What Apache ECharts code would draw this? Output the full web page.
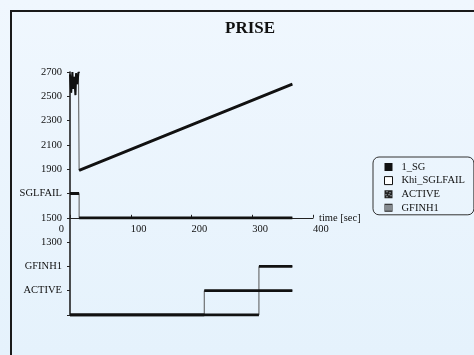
<!DOCTYPE html>
<html>
<head>
<meta charset="utf-8">
<style>
  html, body { margin: 0; padding: 0; background: #ecf5fd; }
  #chart { width: 474px; height: 355px; }
</style>
<script src="https://cdn.jsdelivr.net/npm/echarts@6/dist/echarts.min.js"></script>
</head>
<body>
<div id="chart"></div>
<script>
// Signal 1_SG: noisy start, sudden drop, then steady ramp
const sgNoiseTime  = [0, 2, 4, 5, 7, 9, 10, 12, 14, 15];
const sgNoiseValue = [2680, 2530, 2700, 2560, 2660, 2510, 2690, 2600, 2700, 2690];
const sgRampTime   = [15, 200, 366];
const sgRampValue  = [1890, 2265, 2600];

// Discrete states: change times and the level held after each change
const khiTime     = [0, 15, 366];
const khiLevel    = [1700, 1500];
const activeTime  = [0, 221, 366];
const activeLevel = [700, 900];
const gfinhTime   = [0, 311, 366];
const gfinhLevel  = [700, 1100];

// Axis tick labels
const xTicks = [0, 100, 200, 300, 400];
const stateTickValues = [700, 900, 1100, 1700];
const stateTickNames  = ['', 'ACTIVE', 'GFINH1', 'SGLFAIL'];
const seriesNames = ['1_SG', 'Khi_SGLFAIL', 'ACTIVE', 'GFINH1'];

const FONT = "'Liberation Serif', 'Times New Roman', serif";
const INK = '#111';

// Thick horizontal runs of a step signal (separated by gaps)
function stepRuns(times, levels) {
  const out = [];
  for (let i = 0; i < levels.length; i++) {
    out.push([times[i], levels[i]], [times[i + 1], levels[i]]);
    if (i < levels.length - 1) out.push(null);
  }
  return out;
}
// Full step path including the thin vertical jumps
function stepPath(times, levels) {
  const out = [];
  for (let i = 0; i < levels.length; i++) {
    out.push([times[i], levels[i]], [times[i + 1], levels[i]]);
  }
  return out;
}
const zip = (a, b) => a.map((v, i) => [v, b[i]]);

const sgNoise = zip(sgNoiseTime, sgNoiseValue);
const sgRamp  = zip(sgRampTime, sgRampValue);
const sgThin  = sgNoise.concat(sgRamp);

function thickSeries(name, data, width) {
  return {
    name, type: 'line', data, showSymbol: false, connectNulls: false,
    lineStyle: { color: INK, width: width || 2.8 }, itemStyle: { color: INK },
    z: 4, animation: false, silent: true
  };
}
function thinSeries(data) {
  return {
    type: 'line', data, showSymbol: false,
    lineStyle: { color: '#555', width: 1 }, z: 3, animation: false, silent: true
  };
}

const chart = echarts.init(document.getElementById('chart'), null, { renderer: 'canvas' });

const gridTop = 72, gridHeight = 243;
const yMin = 700, yMax = 2700, xAxisLevel = 1500;
const xAxisOffset = -gridHeight * (xAxisLevel - yMin) / (yMax - yMin);

chart.setOption({
  animation: false,
  backgroundColor: {
    type: 'linear', x: 0, y: 0, x2: 0, y2: 1,
    colorStops: [{ offset: 0, color: '#f0f7fe' }, { offset: 1, color: '#e5f2fc' }]
  },
  title: {
    text: 'PRISE', left: 225, top: 20, padding: 0,
    textStyle: { fontFamily: FONT, fontWeight: 'bold', fontSize: 17, color: INK }
  },
  graphic: [{
    type: 'rect', z: 100,
    shape: { x: 11, y: 11, width: 600, height: 600 },
    style: { fill: 'none', stroke: '#1a1a1a', lineWidth: 2 }
  }],
  legend: {
    orient: 'vertical', left: 373, top: 157,
    padding: [4, 9, 1, 11], itemGap: 1.6,
    itemWidth: 8, itemHeight: 8,
    borderColor: '#333', borderWidth: 1, borderRadius: 6,
    textStyle: { fontFamily: FONT, fontSize: 10.5, color: INK, padding: [0, 0, 0, 4], lineHeight: 12 },
    selectedMode: false,
    data: [
      { name: seriesNames[0], icon: 'rect', itemStyle: { color: INK, borderWidth: 0 } },
      { name: seriesNames[1], icon: 'rect', itemStyle: { color: '#fff', borderColor: INK, borderWidth: 1 } },
      { name: seriesNames[2],
        icon: 'path://M0,0H8V8H0Z M2,1V2H3V1Z M5,2V3H6V2Z M1,4V5H2V4Z M4,4V5H5V4Z M6,5V6H7V5Z M2,6V7H3V6Z',
        itemStyle: { color: '#222', borderWidth: 0 } },
      { name: seriesNames[3],
        icon: 'path://M0,0H8V8H0Z M1,1V7H7V1Z M2,1H3V7H2Z M4,1H5V7H4Z M6,1H6.5V7H6Z',
        itemStyle: { color: '#222', borderWidth: 0 } }
    ]
  },
  grid: { left: 70, top: gridTop, width: 243, height: gridHeight, containLabel: false },
  xAxis: [{
    type: 'value', min: xTicks[0], max: xTicks[xTicks.length - 1], interval: 100,
    position: 'bottom', offset: xAxisOffset,
    name: 'time [sec]', nameLocation: 'end', nameGap: 6,
    nameTextStyle: { fontFamily: FONT, fontSize: 10.5, color: INK, align: 'left', verticalAlign: 'middle' },
    axisLine: { show: true, lineStyle: { color: '#222', width: 1 } },
    axisTick: { show: true, inside: true, length: 3, lineStyle: { color: '#222' } },
    axisLabel: {
      fontFamily: FONT, fontSize: 10.5, color: INK, align: 'left', margin: 6,
      formatter: v => (v === xTicks[0] ? '' : String(v))
    },
    splitLine: { show: false }
  }, {
    // origin label sits left of the vertical axis
    type: 'value', min: xTicks[0], max: xTicks[xTicks.length - 1], interval: 400,
    position: 'bottom', offset: xAxisOffset,
    axisLine: { show: false }, axisTick: { show: false }, splitLine: { show: false },
    axisLabel: {
      fontFamily: FONT, fontSize: 10.5, color: INK, align: 'right', margin: 6, padding: [0, 6, 0, 0],
      formatter: v => (v === xTicks[0] ? String(v) : '')
    }
  }],
  yAxis: {
    type: 'value', min: yMin, max: yMax, interval: 200,
    axisLine: { show: true, lineStyle: { color: '#222', width: 1.6 } },
    axisTick: { show: true, length: 3, lineStyle: { color: '#222' } },
    axisLabel: {
      fontFamily: FONT, fontSize: 10.5, color: INK, margin: 8,
      formatter: v => {
        const k = stateTickValues.indexOf(v);
        return k >= 0 ? stateTickNames[k] : String(v);
      }
    },
    splitLine: { show: false }
  },
  series: [
    thinSeries(sgThin),
    thinSeries(stepPath(khiTime, khiLevel)),
    thinSeries(stepPath(activeTime, activeLevel)),
    thinSeries(stepPath(gfinhTime, gfinhLevel)),
    thickSeries(seriesNames[0], sgNoise, 2),
    thickSeries(null, sgRamp),
    thickSeries(seriesNames[1], stepRuns(khiTime, khiLevel)),
    thickSeries(seriesNames[2], stepRuns(activeTime, activeLevel)),
    thickSeries(seriesNames[3], stepRuns(gfinhTime, gfinhLevel))
  ]
});
</script>
</body>
</html>
